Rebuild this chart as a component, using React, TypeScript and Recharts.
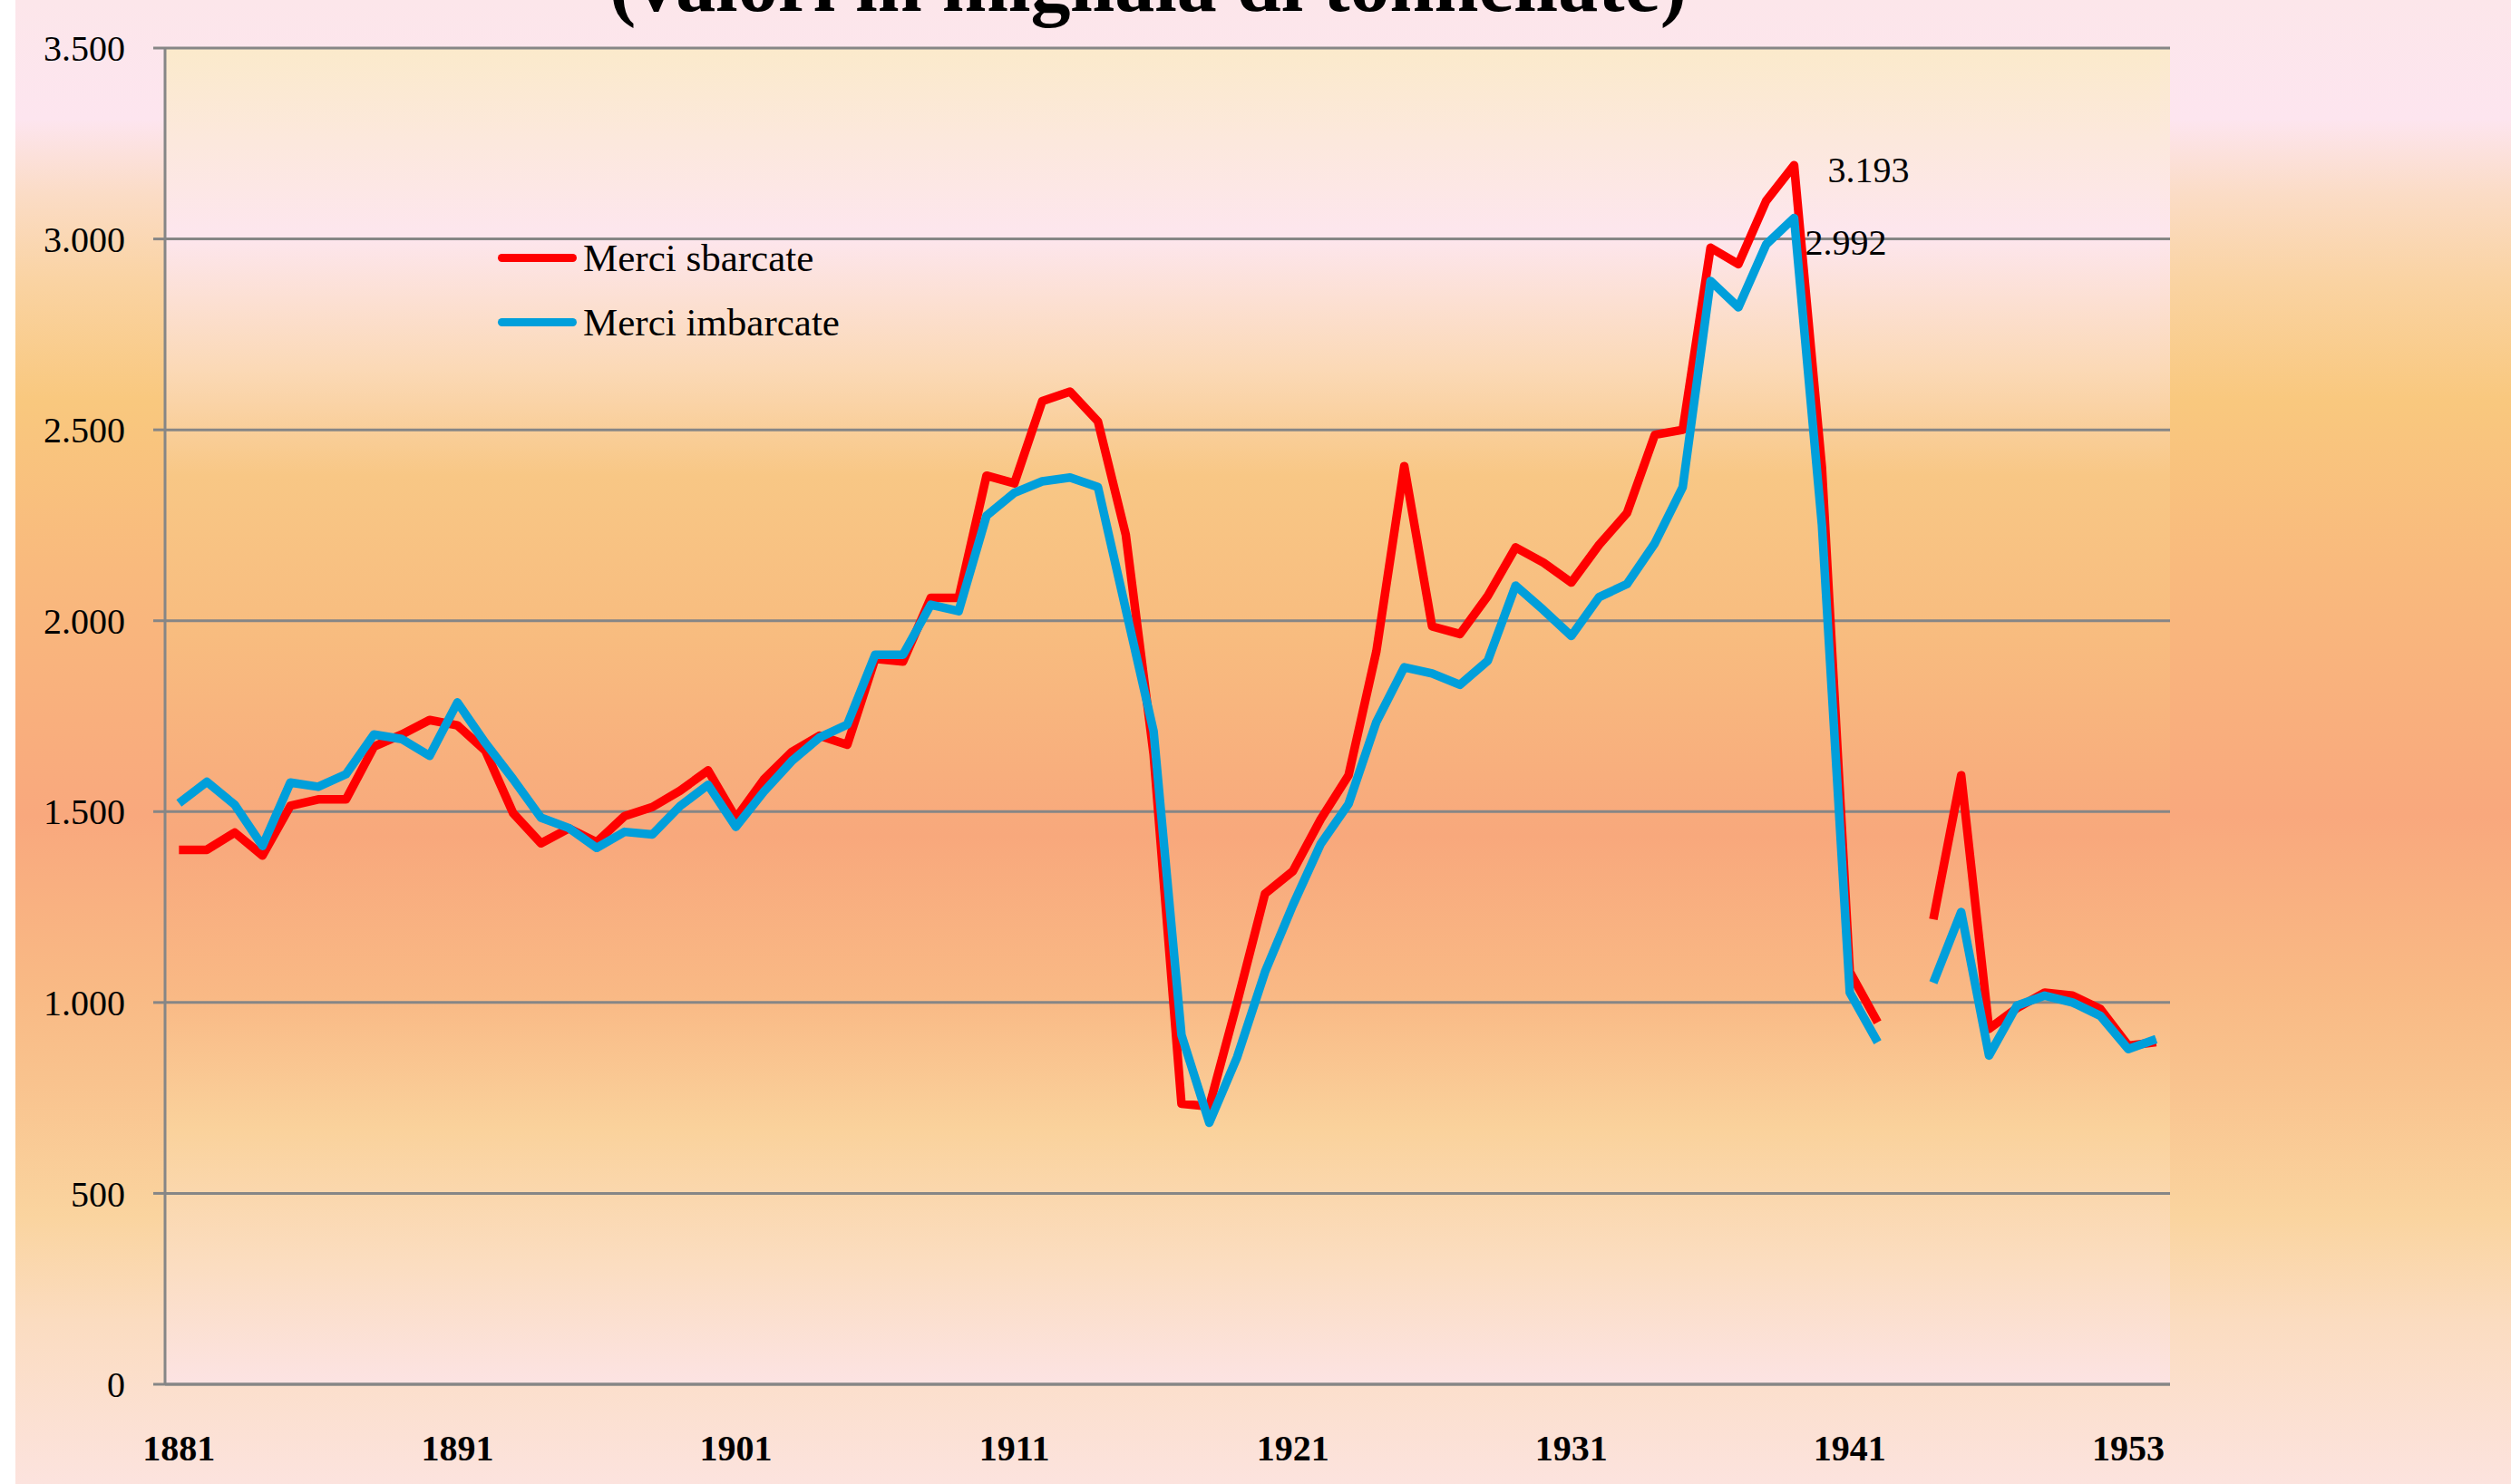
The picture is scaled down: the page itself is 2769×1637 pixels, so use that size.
import React from "react";
import { LineChart, Line, XAxis, YAxis, CartesianGrid, Legend } from "recharts";

const FONT = '"Liberation Serif", "Times New Roman", serif';
const GRID = "#868686";

const title = "(valori in migliaia di tonnellate)";

// categorie: 1881-1942, vuoto bellico, 1946-1954
const years = [
  1881, 1882, 1883, 1884, 1885, 1886, 1887, 1888, 1889, 1890,
  1891, 1892, 1893, 1894, 1895, 1896, 1897, 1898, 1899, 1900,
  1901, 1902, 1903, 1904, 1905, 1906, 1907, 1908, 1909, 1910,
  1911, 1912, 1913, 1914, 1915, 1916, 1917, 1918, 1919, 1920,
  1921, 1922, 1923, 1924, 1925, 1926, 1927, 1928, 1929, 1930,
  1931, 1932, 1933, 1934, 1935, 1936, 1937, 1938, 1939, 1940,
  1941, 1942, 1945, 1946, 1947, 1948, 1949, 1950, 1951, 1952,
  1953, 1954,
];

const sbarcate = [
  1400, 1400, 1445, 1385, 1515, 1532, 1532, 1670, 1702, 1740,
  1726, 1660, 1496, 1417, 1456, 1420, 1488, 1512, 1555, 1608,
  1483, 1584, 1656, 1699, 1675, 1900, 1893, 2060, 2060, 2380,
  2360, 2575, 2600, 2522, 2225, 1650, 735, 728, 1000, 1285,
  1344, 1480, 1595, 1920, 2405, 1985, 1965, 2065, 2192, 2152,
  2100, 2199, 2282, 2487, 2500, 2977, 2934, 3100, 3193, 2400,
  1080, 948, null, 1218, 1595, 931, 985, 1026, 1018, 983,
  887, 896,
];

const imbarcate = [
  1522, 1578, 1518, 1410, 1576, 1565, 1598, 1702, 1690, 1646,
  1786, 1680, 1585, 1484, 1457, 1405, 1447, 1440, 1515, 1570,
  1460, 1552, 1632, 1694, 1728, 1911, 1911, 2042, 2025, 2275,
  2335, 2365, 2375, 2350, 2030, 1710, 915, 685, 857, 1080,
  1255, 1415, 1520, 1735, 1878, 1862, 1832, 1895, 2092, 2028,
  1960, 2062, 2096, 2203, 2350, 2890, 2821, 2986, 3055, 2250,
  1026, 896, null, 1052, 1237, 861, 992, 1018, 1000, 965,
  878, 904,
];

const yTicks = [0, 500, 1000, 1500, 2000, 2500, 3000, 3500];
const labelIdx = [0, 10, 20, 30, 40, 50, 60, 70];
const peakIdx = 58;
const peakText = ["3.193", "2.992"];
const seriesNames = ["Merci sbarcate", "Merci imbarcate"];

const data = years.map((year, i) => ({
  idx: i,
  year,
  sbarcate: sbarcate[i],
  imbarcate: imbarcate[i],
}));
// tacche tra una categoria e l'altra
const bounds = years.map((_, i) => i - 0.5).concat(years.length - 0.5);
const xDomain = [-0.5, years.length - 0.5];

function fmtY(v: number): string {
  return String(v).replace(/\B(?=(\d{3})+(?!\d))/g, ".");
}

function peakLabel(text: string, dx: number, dy: number) {
  return (props: any) => {
    if (props.index !== peakIdx) return <g />;
    return (
      <text
        x={props.x + dx}
        y={props.y + dy}
        dominantBaseline="central"
        fontFamily={FONT}
        fontSize={40}
        fill="#000"
      >
        {text}
      </text>
    );
  };
}

function LegendBox({ payload }: any) {
  const items = [...(payload || [])].sort(
    (a: any, b: any) => seriesNames.indexOf(a.value) - seriesNames.indexOf(b.value)
  );
  return (
    <div style={{ fontFamily: FONT, fontSize: 43, color: "#000" }}>
      {items.map((p: any) => (
        <div key={p.value} style={{ display: "flex", alignItems: "center", height: 71 }}>
          <span
            style={{
              display: "inline-block",
              width: 87,
              height: 9,
              borderRadius: 5,
              background: p.color,
              marginRight: 7,
            }}
          />
          <span style={{ whiteSpace: "nowrap" }}>{p.value}</span>
        </div>
      ))}
    </div>
  );
}

export default function App() {
  return (
    <div
      style={{
        position: "absolute",
        left: 0,
        top: 0,
        width: 2769,
        height: 1637,
        background: "#fff",
        overflow: "hidden",
      }}
    >
      <svg width={0} height={0} style={{ position: "absolute" }}>
        <defs>
          <linearGradient id="plotBg" x1="0" y1="0" x2="0" y2="1">
            <stop offset="0%" stopColor="#FBEACB" />
            <stop offset="14%" stopColor="#FDE6EE" />
            <stop offset="24%" stopColor="#FBD9B6" />
            <stop offset="32%" stopColor="#F8C785" />
            <stop offset="44%" stopColor="#F8BC7F" />
            <stop offset="59%" stopColor="#F8A87C" />
            <stop offset="71%" stopColor="#F9B985" />
            <stop offset="81%" stopColor="#FAD29C" />
            <stop offset="91%" stopColor="#FBDDC0" />
            <stop offset="100%" stopColor="#FCE3E3" />
          </linearGradient>
        </defs>
      </svg>
      <div
        style={{
          position: "absolute",
          left: 17,
          top: 0,
          right: 0,
          bottom: 0,
          background:
            "linear-gradient(to bottom, #FCE6EA 0%, #FDE5EF 8%, #FBDCC6 13%, #FAD3A2 19%, #F9C87E 27%, #F9BA7D 38%, #F9A87D 55%, #F9BA85 67%, #F9C38E 73%, #FAD49F 82%, #FBDCC0 89%, #FCE3DE 100%)",
        }}
      />
      <div
        style={{
          position: "absolute",
          left: 1266,
          top: -61,
          transform: "translateX(-50%)",
          fontFamily: FONT,
          fontWeight: "bold",
          fontSize: 88,
          lineHeight: 1,
          whiteSpace: "nowrap",
          color: "#000",
        }}
      >
        {title}
      </div>
      <div style={{ position: "absolute", left: 0, top: 0 }}>
        <LineChart
          width={2769}
          height={1637}
          data={data}
          margin={{ top: 53, right: 376, bottom: 0, left: 0 }}
        >
          <CartesianGrid
            xAxisId="a_tk"
            vertical={false}
            stroke={GRID}
            strokeWidth={3}
            fill="url(#plotBg)"
            fillOpacity={1}
          />
          <XAxis
            xAxisId="a_tk"
            type="number"
            dataKey="idx"
            domain={xDomain}
            allowDataOverflow
            ticks={bounds}
            interval={0}
            tick={false}
            tickSize={13}
            height={14}
            axisLine={{ stroke: GRID, strokeWidth: 3 }}
            tickLine={{ stroke: GRID, strokeWidth: 3 }}
          />
          <XAxis
            xAxisId="b_lab"
            type="number"
            dataKey="idx"
            domain={xDomain}
            allowDataOverflow
            ticks={labelIdx}
            interval={0}
            height={96}
            axisLine={false}
            tickLine={false}
            tickSize={0}
            tickMargin={42}
            tickFormatter={(v: number) => String(years[v])}
            tick={{ fill: "#000", fontSize: 40, fontWeight: "bold", fontFamily: FONT }}
          />
          <YAxis
            type="number"
            domain={[0, 3500]}
            ticks={yTicks}
            interval={0}
            width={182}
            tickSize={13}
            tickMargin={31}
            axisLine={{ stroke: GRID, strokeWidth: 3 }}
            tickLine={{ stroke: GRID, strokeWidth: 3 }}
            tickFormatter={fmtY}
            tick={{ fill: "#000", fontSize: 40, fontFamily: FONT }}
          />
          <Legend
            layout="vertical"
            align="center"
            verticalAlign="middle"
            wrapperStyle={{ position: "absolute", left: 549, top: 249, width: "auto", height: "auto" }}
            content={<LegendBox />}
          />
          <Line
            xAxisId="a_tk"
            type="linear"
            dataKey="sbarcate"
            name={seriesNames[0]}
            stroke="#FF0000"
            strokeWidth={9.5}
            strokeLinejoin="round"
            dot={false}
            activeDot={false}
            isAnimationActive={false}
            label={peakLabel(peakText[0], 37, 5)}
          />
          <Line
            xAxisId="a_tk"
            type="linear"
            dataKey="imbarcate"
            name={seriesNames[1]}
            stroke="#009FDB"
            strokeWidth={9.5}
            strokeLinejoin="round"
            dot={false}
            activeDot={false}
            isAnimationActive={false}
            label={peakLabel(peakText[1], 12, 27)}
          />
        </LineChart>
      </div>
    </div>
  );
}
